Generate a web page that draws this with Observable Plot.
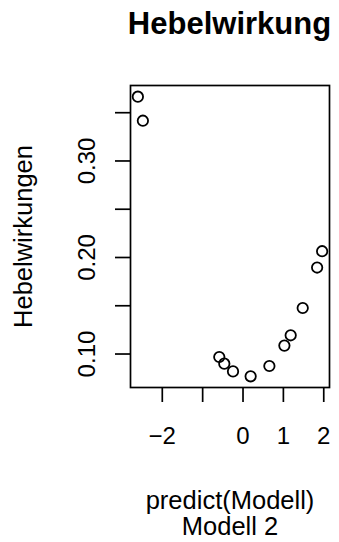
<!DOCTYPE html>
<html>
<head>
<meta charset="utf-8">
<script src="https://cdn.jsdelivr.net/npm/d3@7"></script>
<script src="https://cdn.jsdelivr.net/npm/@observablehq/plot@0.6"></script>
<style>
  html, body { margin: 0; padding: 0; background: #fff; }
  body { width: 339px; height: 542px; overflow: hidden; font-family: "Liberation Sans", Arial, sans-serif; }
  #title { margin-left: 130px; width: 199px; height: 60px; box-sizing: border-box; padding-top: 8px;
           text-align: center; font-weight: bold; font-size: 31px; line-height: 1; color: #000; white-space: nowrap; }
  #title span { display: inline-block; margin-left: -40px; margin-right: -40px; }
</style>
</head>
<body>
<div id="title"><span>Hebelwirkung</span></div>
<div id="chart"></div>
<script>
// Data
const predictValues  = [-2.605, -2.481, -0.588, -0.464, -0.248, 0.189, 0.653, 1.025, 1.181, 1.479, 1.836, 1.960];
const leverageValues = [0.3666, 0.3417, 0.0969, 0.0900, 0.0820, 0.0769, 0.0876, 0.1087, 0.1194, 0.1477, 0.1896, 0.2065];

const xTicks = [-2, -1, 0, 1, 2];
const xTickLabels = ["−2", "", "0", "1", "2"];
const yTicks = [0.10, 0.15, 0.20, 0.25, 0.30, 0.35];
const yTickLabels = ["0.10", "", "0.20", "", "0.30", ""];

const titleText = "Hebelwirkung";
const xLabel = "predict(Modell)";
const subLabel = "Modell 2";
const yLabel = "Hebelwirkungen";

const points = predictValues.map((x, i) => ({x, y: leverageValues[i]}));
const yLabelRows = yTicks.map((v, i) => ({v, label: yTickLabels[i]}));

// R-style 4% axis extension
function extend([a, b]) { const d = (b - a) * 0.04; return [a - d, b + d]; }
const xDomain = extend(d3.extent(predictValues));
const yDomain = extend(d3.extent(leverageValues));

const tickFont = 24;
const labelFont = 25.5;
const lw = 1.7;

const chart = Plot.plot({
  width: 339,
  height: 482,
  marginLeft: 130,
  marginRight: 10,
  marginTop: 25,
  marginBottom: 155,
  style: {fontFamily: "'Liberation Sans', Arial, sans-serif", color: "#000", background: "#fff"},
  x: {domain: xDomain},
  y: {domain: yDomain},
  marks: [
    Plot.axisX({ticks: xTicks, tickSize: 15, tickPadding: 24, strokeWidth: lw,
      tickFormat: (d) => xTickLabels[xTicks.indexOf(d)], fontSize: tickFont, label: null}),
    Plot.axisY({ticks: yTicks, tickSize: 15, strokeWidth: lw, tickFormat: () => "", label: null}),
    Plot.text(yLabelRows, {y: "v", text: "label", frameAnchor: "left", dx: -36, rotate: -90,
      lineAnchor: "bottom", textAnchor: "middle", fontSize: tickFont, fill: "#000"}),
    Plot.text([yLabel], {text: (d) => d, frameAnchor: "left", dx: -99, rotate: -90,
      lineAnchor: "bottom", textAnchor: "middle", fontSize: labelFont, fill: "#000"}),
    Plot.text([xLabel], {text: (d) => d, frameAnchor: "bottom", dy: 113,
      lineAnchor: "middle", textAnchor: "middle", fontSize: labelFont, fill: "#000"}),
    Plot.text([subLabel], {text: (d) => d, frameAnchor: "bottom", dy: 139,
      lineAnchor: "middle", textAnchor: "middle", fontSize: labelFont, fill: "#000"}),
    Plot.frame({stroke: "#000", strokeWidth: lw}),
    Plot.dot(points, {x: "x", y: "y", r: 5.2, stroke: "#000", strokeWidth: 1.8, fill: "none"})
  ]
});
document.getElementById("title").querySelector("span").textContent = titleText;
document.getElementById("chart").appendChild(chart);
</script>
</body>
</html>
